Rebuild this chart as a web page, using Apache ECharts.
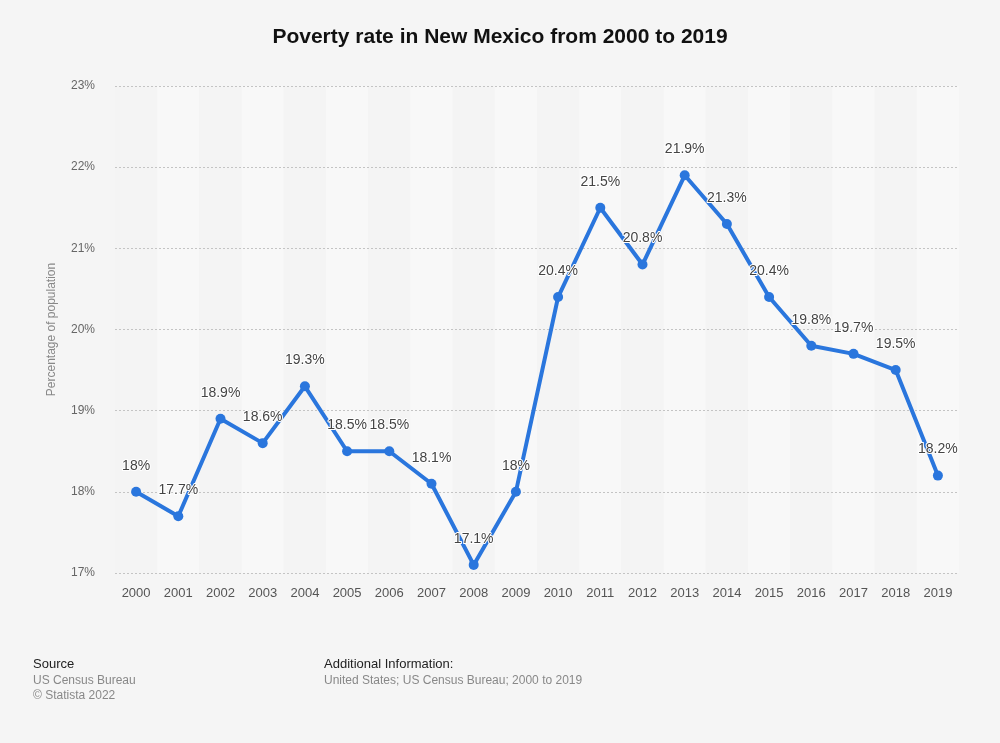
<!DOCTYPE html>
<html><head><meta charset="utf-8">
<script src="https://cdn.jsdelivr.net/npm/echarts@6/dist/echarts.min.js"></script>
<style>html,body{margin:0;padding:0;background:#f5f5f5;}#c{width:1000px;height:743px;}</style>
</head><body><div id="c"></div>
<script>
const years = ['2000','2001','2002','2003','2004','2005','2006','2007','2008','2009','2010','2011','2012','2013','2014','2015','2016','2017','2018','2019'];
const rates = [18, 17.7, 18.9, 18.6, 19.3, 18.5, 18.5, 18.1, 17.1, 18, 20.4, 21.5, 20.8, 21.9, 21.3, 20.4, 19.8, 19.7, 19.5, 18.2];
const chart = echarts.init(document.getElementById('c'));
const font = '"Liberation Sans", Arial, Helvetica, sans-serif';
chart.setOption({
  backgroundColor: '#f5f5f5',
  animation: false,
  title: {
    text: 'Poverty rate in New Mexico from 2000 to 2019',
    left: 'center', top: 22,
    textStyle: { fontFamily: font, fontSize: 21, fontWeight: 'bold', color: '#111' }
  },
  grid: { left: 115, right: 41, top: 86, bottom: 170 },
  xAxis: {
    type: 'category', data: years, boundaryGap: true, z: 0,
    axisLine: { show: false }, axisTick: { show: false },
    axisLabel: { color: '#555', fontSize: 13, fontFamily: font, margin: 14 },
    splitArea: { show: true, areaStyle: { color: ['#f4f4f4', '#f8f8f8'] } }
  },
  yAxis: {
    type: 'value', min: 17, max: 23, interval: 1, z: 3,
    name: 'Percentage of population', nameLocation: 'middle', nameGap: 57,
    nameTextStyle: { color: '#888', fontSize: 12, fontFamily: font },
    axisLine: { show: false }, axisTick: { show: false },
    axisLabel: { formatter: '{value}%', color: '#666', fontSize: 12, fontFamily: font, margin: 20 },
    splitLine: { lineStyle: { color: '#c4c4c4', type: [2, 2], width: 1 } }
  },
  series: [{
    type: 'line', data: rates, z: 5,
    lineStyle: { color: '#2a76dd', width: 4 },
    itemStyle: { color: '#2a76dd' },
    symbol: 'circle', symbolSize: 10,
    label: { show: true, position: 'top', distance: 14, formatter: p => p.value + '%', color: '#444', fontSize: 14, fontFamily: font, textBorderColor: '#ffffff', textBorderWidth: 2 }
  }],
  graphic: [
    { type: 'text', left: 33, top: 658, style: { text: 'Source', fill: '#222', font: '13px ' + font } },
    { type: 'text', left: 33, top: 675, style: { text: 'US Census Bureau', fill: '#888', font: '12px ' + font } },
    { type: 'text', left: 33, top: 690, style: { text: '© Statista 2022', fill: '#888', font: '12px ' + font } },
    { type: 'text', left: 324, top: 658, style: { text: 'Additional Information:', fill: '#222', font: '13px ' + font } },
    { type: 'text', left: 324, top: 675, style: { text: 'United States; US Census Bureau; 2000 to 2019', fill: '#888', font: '12px ' + font } }
  ]
});
</script></body></html>
